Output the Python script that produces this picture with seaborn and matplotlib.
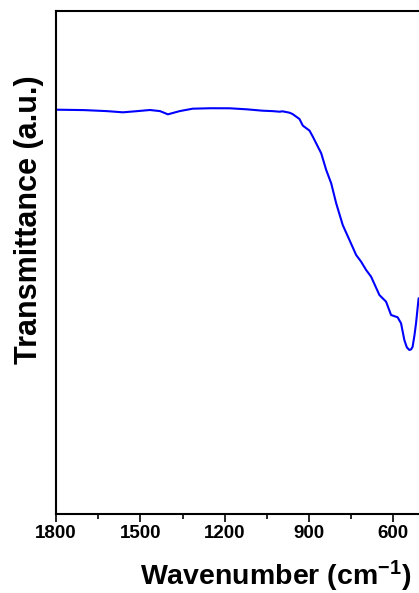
import matplotlib
matplotlib.use("Agg")
import matplotlib.pyplot as plt
import seaborn as sns
import pandas as pd

# FTIR spectrum (transmittance, arbitrary units)
wavenumber = [1796, 1700, 1620, 1562, 1510, 1466, 1430, 1402, 1360, 1314, 1250,
              1182, 1120, 1065, 1030, 1004.7, 994, 969.2, 959, 945.4, 934, 922.0,
              898.2, 886.5, 856.7, 838.9, 821.2, 803.4, 780.0, 756.2, 732.4,
              714.7, 696.9, 679.2, 649.7, 625.9, 608.2, 584.8, 572.7, 561.0,
              552, 543.2, 537, 531.5, 525, 519.4, 510.2]
transmittance = [80.33, 80.25, 80.05, 79.81, 80.05, 80.27, 80.05, 79.41, 80.05,
                 80.53, 80.62, 80.61, 80.40, 80.13, 80.05, 79.93, 80.01, 79.73,
                 79.48, 78.94, 78.48, 77.16, 76.17, 74.97, 71.67, 68.35, 65.71,
                 61.73, 57.40, 54.44, 51.46, 50.13, 48.48, 47.15, 43.51, 42.18,
                 39.54, 39.08, 37.89, 34.57, 33.1, 32.59, 32.7, 33.24, 35.5,
                 37.89, 42.86]

x_ticks = [1800, 1500, 1200, 900, 600]

sns.set_theme(style="ticks")
plt.rcParams["font.family"] = ["Liberation Sans", "DejaVu Sans"]
plt.rcParams["font.weight"] = "bold"
plt.rcParams["text.color"] = "black"
plt.rcParams["axes.labelcolor"] = "black"
plt.rcParams["mathtext.fontset"] = "custom"
plt.rcParams["mathtext.rm"] = "Liberation Sans:bold"
plt.rcParams["mathtext.bf"] = "Liberation Sans:bold"
plt.rcParams["mathtext.default"] = "bf"

df = pd.DataFrame({"wn": wavenumber, "T": transmittance})

fig = plt.figure(figsize=(4.19, 5.93), dpi=100)
ax = fig.add_axes([56 / 419, (593 - 514) / 593, (449.6 - 56) / 419, (514 - 10.7) / 593])

sns.lineplot(data=df, x="wn", y="T", ax=ax, color="#0000ff", linewidth=1.5,
             sort=False, estimator=None)

ax.set_xlim(1800, 400)
ax.set_ylim(0, 100)
ax.set_xticks(x_ticks)
ax.set_xticks([1650, 1350, 1050, 750, 450], minor=True)
ax.set_yticks([])
ax.tick_params(axis="x", which="major", direction="out", length=6, width=1.2,
               labelsize=13.5, pad=2, colors="black")
ax.tick_params(axis="x", which="minor", direction="out", length=3.5, width=1.2,
               colors="black")
for lab in ax.get_xticklabels():
    lab.set_fontweight("bold")
for side in ["left", "bottom", "top"]:
    ax.spines[side].set_linewidth(1.5)
    ax.spines[side].set_color("black")
ax.spines["right"].set_visible(False)

ax.set_xlabel("Wavenumber (cm$^{-1}$)", fontsize=20.5, fontweight="bold")
ax.set_ylabel("Transmittance (a.u.)", fontsize=22, fontweight="bold")
ax.xaxis.set_label_coords((276 - 56) / (449.6 - 56), -(576 - 514) / 503.3)
ax.yaxis.set_label_coords(-(56 - 29) / (449.6 - 56), (514 - 220) / 503.3)
ax.xaxis.label.set_va("center")
ax.yaxis.label.set_va("center")

fig.savefig("out.png", dpi=100)
